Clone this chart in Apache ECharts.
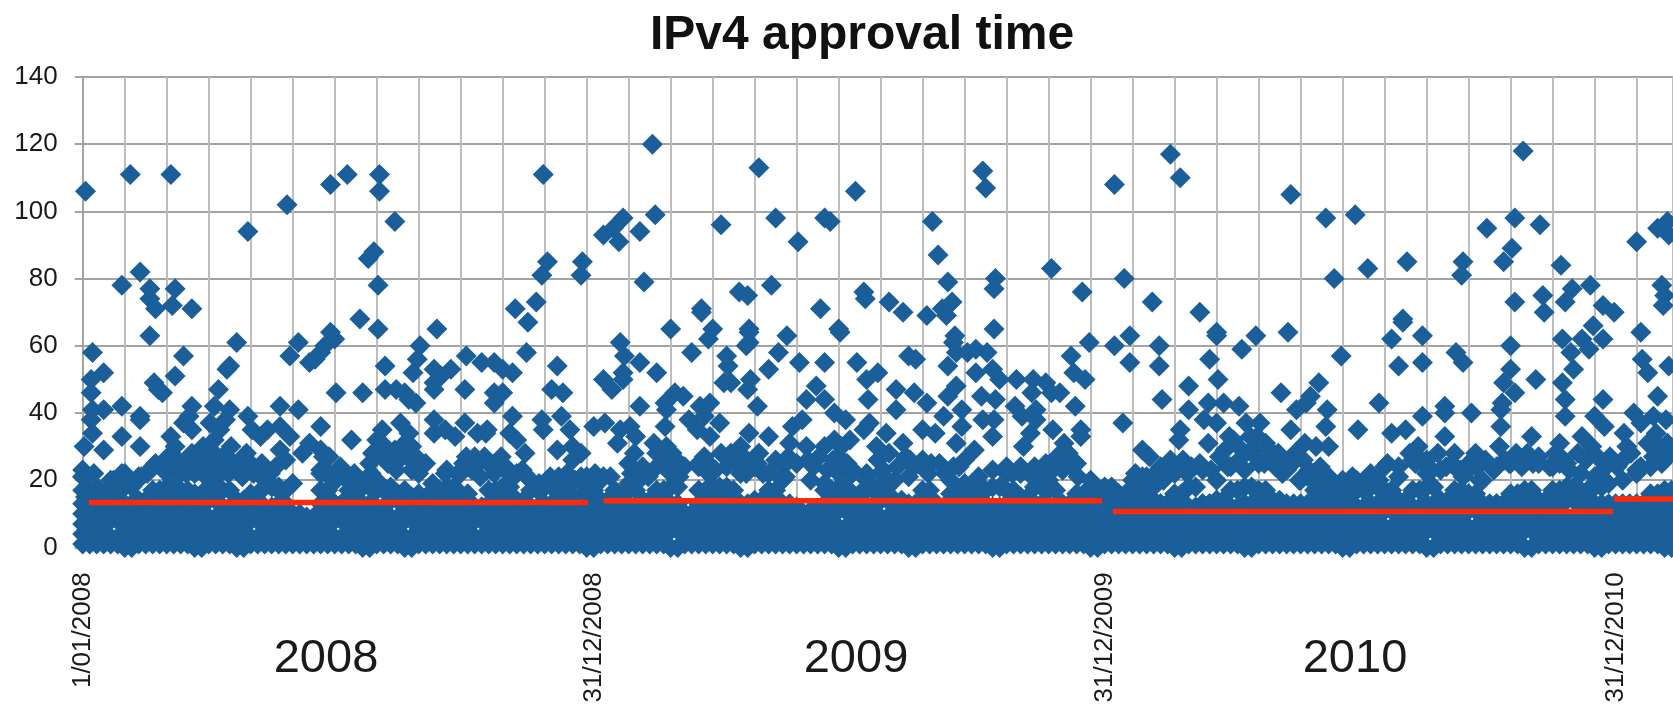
<!DOCTYPE html>
<html>
<head>
<meta charset="utf-8">
<title>IPv4 approval time</title>
<script src="https://cdn.jsdelivr.net/npm/echarts@6/dist/echarts.min.js"></script>
<style>
html, body { margin: 0; padding: 0; background: #fff; }
#chart { width: 1673px; height: 708px; }
</style>
</head>
<body>
<div id="chart"></div>
<script>
// x is days since 1/01/2008, y is approval time
const yearNames = ['2008', '2009', '2010'];
const dateLabelDays = [0, 365, 730, 1095];
const dateLabelTexts = ['1/01/2008', '31/12/2008', '31/12/2009', '31/12/2010'];

// yearly medians [start day, end day, value]
const medianSegments = [
    [4.4, 361, 13.4],
    [372, 728, 13.9],
    [736, 1093, 10.7],
    [1094, 1136, 14.4]
];

// individually readable points
const points2008 = [
    [2,106],[34,111],[63,111],[28,78],[41,82],[48,77],[48,74],[52,71],[66,77],[64,72],[78,71],[48,63],[72,57],[66,51],
    [7,58],[15,52],[6,50],[6,46],[51,49],[54,47],[57,46],[28,42],[7,41],[15,41],[6,38],[7,34],[41,39],[41,38],[28,33],
    [1,30],[15,29],[41,30],[0,23],[8,22],[0,21],[2,15],[118,94],[146,102],[177,108],[189,111],[212,111],[212,106],
    [223,97],[208,88],[204,86],[211,78],[198,68],[211,65],[110,61],[105,54],[103,53],[97,47],[154,61],[148,57],[162,55],
    [170,58],[166,56],[177,64],[180,62],[173,60],[181,46],[200,46],[216,54],[216,47],[224,47],[230,46],[233,44],[238,43],
    [241,60],[239,56],[236,52],[253,65],[251,53],[263,53],[256,51],[251,49],[251,47],[274,57],[273,47],[285,55],[294,55],
    [300,53],[307,52],[294,46],[300,46],[294,43],[309,71],[318,67],[317,58],[324,73],[328,81],[332,85],[329,111],[357,85],
    [356,81],[339,54],[335,47],[343,46],[342,39],[328,38],[329,35],[348,35],[339,29],[350,30],[350,26],[356,28],[307,39],
    [78,42],[72,37],[78,35],[76,39],[94,42],[105,41],[102,38],[91,37],[98,35],[118,39],[121,35],[127,33],[132,35],[141,36],
    [148,33],[141,42],[154,41],[141,29],[145,26],[157,28],[162,31],[170,36],[170,29],[176,27],[192,32],[227,37],[214,35],
    [210,32],[233,34],[235,30],[223,29],[207,28],[205,25],[224,23],[235,23],[245,25],[238,27],[251,38],[251,34],[259,35],
    [266,33],[273,37],[282,34],[289,35],[288,34],[305,34],[310,32],[316,28],[299,27],[287,27],[280,27],[272,25],[294,22],
    [28,22],[23,19],[42,21],[52,25],[63,33],[66,30],[61,27],[64,24],[78,28],[86,30],[94,28],[89,24],[106,30],[117,28],
    [112,24],[127,22],[132,20],[94,32],[173,23],[181,20],[189,20],[209,20],[259,22],[305,22],[340,21],[356,21],[326,19],
    [22,20],[30,19],[34,20],[46,22],[56,24],[60,22],[68,26],[70,22],[74,22],[76,26],[80,24],[84,27],[88,21],[90,28],[96,25],
    [98,22],[100,27],[104,22],[108,25],[114,21],[120,25],[122,22],[128,25],[134,22],[138,24],[170,23],[172,27],[176,21],
    [184,24],[188,22],[194,22],[206,22],[212,28],[216,30],[218,25],[226,26],[230,31],[232,27],[240,22],[268,22],[274,27],
    [278,23],[284,21],[290,25],[296,25],[302,24],[308,21],[314,23],[320,20],[334,21],[346,22],[352,20],[360,21]
];
const points2009 = [
    [407,120],[372,93],[379,95],[386,98],[383,91],[398,94],[409,99],[401,79],[483,113],[495,98],[456,96],[511,91],[530,98],
    [534,97],[552,106],[607,97],[611,87],[643,112],[645,107],[618,79],[652,80],[651,77],[692,83],[714,76],[442,71],[442,70],
    [469,76],[475,75],[492,78],[558,76],[559,74],[527,71],[576,73],[586,70],[603,69],[614,71],[621,73],[617,69],[420,65],
    [450,65],[476,65],[447,62],[476,61],[474,60],[476,64],[503,63],[540,65],[541,64],[651,65],[623,63],[622,61],[624,58],
    [632,58],[638,59],[646,58],[384,61],[387,57],[398,55],[386,52],[410,52],[372,50],[386,50],[378,47],[435,58],[460,57],
    [461,54],[458,49],[463,49],[477,50],[475,47],[497,58],[490,53],[512,55],[530,55],[553,55],[568,52],[560,50],[561,44],
    [590,57],[595,56],[618,54],[638,52],[650,53],[655,50],[667,50],[679,50],[688,49],[706,57],[708,52],[716,50],[698,46],
    [692,46],[709,42],[719,61],[398,42],[423,46],[429,45],[416,43],[448,43],[441,42],[482,42],[524,48],[517,44],[530,44],
    [537,40],[545,38],[581,47],[594,46],[603,43],[581,41],[624,48],[618,45],[642,45],[652,44],[666,42],[671,39],[678,46],
    [681,41],[681,38],[628,41],[615,39],[643,38],[651,38],[628,36],[609,34],[600,35],[693,35],[713,35],[713,33],[650,33],
    [637,29],[624,31],[677,34],[672,30],[701,31],[699,27],[365,36],[373,37],[384,35],[391,36],[395,33],[382,31],[408,31],
    [417,30],[421,28],[417,41],[416,36],[433,38],[439,35],[448,33],[455,37],[444,39],[476,34],[490,33],[470,30],[483,28],
    [463,28],[507,36],[514,38],[505,31],[517,30],[530,30],[537,32],[548,32],[562,37],[558,35],[574,34],[567,30],[586,31],
    [540,27],[372,21],[366,22],[377,21],[392,22],[429,24],[447,25],[447,22],[474,22],[495,26],[502,21],[560,22],[606,25],
    [591,26],[622,24],[638,20],[660,22],[680,24],[693,23],[706,24],[711,21],
    [390,25],[394,28],[400,24],[404,21],[410,28],[414,25],[420,22],[424,26],[426,21],[440,24],[444,27],[452,23],[456,28],
    [460,24],[466,26],[472,27],[478,24],[482,25],[486,22],[500,24],[504,27],[510,25],[518,26],[522,24],[526,27],[532,23],
    [536,26],[542,30],[546,25],[550,22],[568,26],[572,23],[576,28],[582,24],[588,27],[594,24],[600,26],[604,22],[612,25],
    [616,22],[626,24],[630,26],[664,22],[670,24],[676,22],[684,21],[688,25],[696,27],[700,23],[704,28]
];
const points2010 = [
    [737,108],[777,117],[784,110],[863,105],[888,98],[909,99],[1029,118],[1003,95],[1023,98],[1041,96],[1021,89],[1015,85],
    [744,80],[764,73],[798,70],[894,80],[918,83],[946,85],[986,85],[985,81],[1056,84],[1023,73],[1043,75],[1044,70],
    [1059,73],[1064,77],[1077,78],[1086,72],[1094,70],[748,63],[737,60],[769,60],[748,55],[769,54],[810,64],[810,63],[838,63],
    [828,59],[805,56],[861,64],[899,57],[943,68],[943,67],[935,62],[957,63],[940,54],[957,55],[981,58],[986,55],[1020,60],
    [1020,53],[1057,62],[1071,62],[1079,66],[1086,62],[1063,58],[1076,59],[1065,53],[790,48],[811,50],[771,44],[743,37],
    [790,41],[804,43],[815,43],[826,42],[856,46],[883,49],[877,45],[874,43],[867,41],[889,41],[926,43],[973,42],[973,40],
    [957,39],[992,40],[1015,49],[1023,46],[1038,50],[1057,49],[1059,44],[1014,43],[1013,41],[1059,39],[1086,44],[1080,39],
    [888,36],[863,35],[911,35],[935,34],[945,35],[973,33],[1013,36],[1035,33],[1071,33],[1087,36],[1055,31],[810,37],[801,38],
    [784,35],[783,32],[804,31],[819,33],[831,37],[841,37],[839,33],[845,31],[835,29],[757,29],[762,27],[890,30],[873,31],
    [866,28],[854,28],[881,30],[954,30],[980,28],[995,28],[1012,30],[1032,28],[1078,30],[1091,27],[777,26],[757,21],[789,22],
    [826,26],[818,24],[852,24],[869,20],[881,20],[907,21],[932,25],[956,26],[964,23],[986,21],[998,20],[1019,25],[1055,25],
    [732,16],[753,18],[857,22],
    [752,22],[758,19],[766,22],[772,20],[780,23],[786,26],[792,24],[798,25],[806,23],[812,27],[816,29],[822,32],[828,29],
    [834,33],[838,27],[844,25],[848,29],[850,25],[856,26],[860,23],[864,25],[872,26],[876,23],[884,24],[900,20],[914,19],
    [920,21],[926,20],[940,21],[948,28],[952,25],[960,26],[968,28],[974,24],[978,25],[984,23],[990,25],[996,24],[1002,26],
    [1008,23],[1016,26],[1024,28],[1028,24],[1036,25],[1040,27],[1048,24],[1052,28],[1058,26],[1062,23],[1068,28],[1074,26],
    [1082,27],[1086,23]
];
const points2011 = [
    [1110,91],[1125,95],[1132,97],[1133,93],[1128,78],[1130,75],[1129,72],[1113,64],[1114,56],[1133,54],[1118,52],[1125,45],
    [1108,40],[1122,39],[1131,38],[1101,34],[1113,37],[1113,24],[1134,28],[1103,30],[1126,30],
    [1096,24],[1100,26],[1106,28],[1110,23],[1118,31],[1122,27],[1128,25],[1132,31],[1124,34]
];

// the packed mass near the axis, read in 10 day steps
const rowDaysA = [
    0,10,20,30,40,50,60,70,80,90,100,110,120,130,140,150,160,170,180,190,200,210,220,230,240,250,260,270,280,290,
    300,310,320,330,340,350,360,370,380,390,400,410,420,430,440,450,460,470,480,490,500,510,520,530,540,550,560,570,580,590,
    600,610,620,630,640,650,660,670,680,690,700,710,720,730,740,750,760,770,780,790,800,810,820,830,840,850,860,870,880,890,
    900,910,920,930,940,950,960,970,980,990,1000,1010,1020,1030,1040,1050,1060,1070,1080,1090,1100,1110,1120,1130
];
const rowDaysB = [
    5,15,25,35,45,55,65,75,85,95,105,115,125,135,145,155,165,175,185,195,205,215,225,235,245,255,265,275,285,295,
    305,315,325,335,345,355,365,375,385,395,405,415,425,435,445,455,465,475,485,495,505,515,525,535,545,555,565,575,585,595,
    605,615,625,635,645,655,665,675,685,695,705,715,725,735,745,755,765,775,785,795,805,815,825,835,845,855,865,875,885,895,
    905,915,925,935,945,955,965,975,985,995,1005,1015,1025,1035,1045,1055,1065,1075,1085,1095,1105,1115,1125,1135
];
const rowBottom = [
    1,1,1,0,1,1,1,1,0,1,1,0,1,1,1,1,1,1,1,1,0,1,1,0,1,1,1,1,1,1,
    1,1,1,1,1,1,0,1,1,1,1,1,0,1,1,1,1,0,1,1,1,1,1,1,0,1,1,1,1,0,
    1,1,1,1,1,0,1,1,1,1,1,1,0,1,1,1,1,1,0,1,1,1,1,0,1,1,1,1,1,1,
    0,1,1,1,1,1,0,1,1,1,1,1,1,0,1,1,1,1,0,1,1,1,1,0
];
const rowLow = [
    4,4,3,4,5,4,4,3,4,4,5,4,3,4,4,5,4,4,3,4,4,5,4,3,4,4,4,5,3,4,
    4,4,5,4,3,4,4,5,4,4,3,4,5,4,4,4,3,4,4,5,4,4,4,3,4,4,5,4,4,3,
    4,5,4,4,3,4,4,5,4,4,4,3,4,5,4,4,3,4,4,5,4,3,4,4,4,5,4,4,3,4,
    4,5,4,4,3,4,5,4,4,4,3,4,4,5,4,3,4,4,4,5,4,4,3,4
];
const rowMid = [
    7,7,8,7,6,7,8,7,7,6,7,7,8,7,7,6,7,7,8,7,6,7,7,8,7,7,6,7,8,7,
    7,6,7,8,7,7,7,6,7,8,7,7,6,7,7,8,7,6,7,7,7,8,7,7,6,7,8,7,7,7,
    6,7,7,8,7,7,6,7,7,8,7,6,7,7,8,7,7,6,7,8,7,7,7,6,7,8,7,7,7,6,
    7,8,7,6,7,7,8,7,7,6,7,7,8,7,7,6,7,8,7,7,6,7,7,8
];
const rowUpper = [
    10,11,10,10,9,10,11,10,10,9,10,11,10,10,10,10,8,10,10,11,10,10,9,10,11,10,10,9,10,10,
    11,10,10,9,10,11,10,10,10,9,10,11,10,9,10,10,11,10,9,10,10,9,8,10,11,10,10,9,10,11,
    10,9,10,11,10,10,9,10,10,11,9,10,10,9,10,10,11,10,9,10,10,11,9,10,10,10,9,10,11,10,
    10,9,10,11,10,10,9,10,10,11,10,9,10,10,11,10,9,10,10,10,9,10,11,10
];
const rowTop = [
    13,13,14,13,12,13,14,13,13,14,12,13,14,12,13,9,9,13,13,14,13,12,14,13,12,13,14,13,12,13,
    14,13,12,13,14,13,13,13,14,12,13,14,13,10,13,14,13,12,14,13,13,10,10,13,14,13,12,14,13,12,
    13,10,13,14,13,12,13,14,13,12,13,13,14,12,13,13,14,13,13,12,13,14,12,13,14,13,13,12,13,14,
    13,12,13,14,13,12,13,14,13,12,13,13,14,13,12,13,14,13,13,12,13,12,13,14
];
const rowCrest = [
    17,15,17,18,14,17,18,17,16,18,17,14,16,18,17,9,9,17,13,17,18,17,16,15,14,17,18,16,12,17,
    18,14,17,18,17,15,17,14,15,17,14,17,18,10,17,18,17,13,13,17,12,10,11,17,18,16,17,18,14,13,
    17,12,16,18,17,18,17,15,18,17,12,16,17,18,16,17,18,13,16,18,13,14,17,18,17,14,12,13,17,18,
    15,17,18,17,14,17,18,13,17,16,12,13,16,17,14,17,18,17,18,13,12,13,16,17
];
const rowPeak = [
    21,18,20,22,21,24,25,23,22,26,24,25,24,20,18,19,6,22,21,20,19,20,18,17,16,19,23,22,24,25,
    24,22,20,18,19,20,18,20,17,19,21,24,25,24,25,23,18,22,24,22,20,12,20,19,22,23,20,22,20,21,
    24,13,20,19,21,23,24,22,18,20,23,25,20,17,15,20,21,24,22,24,23,20,24,23,25,26,24,20,19,21,
    18,20,22,24,24,26,22,23,24,23,20,24,25,26,25,24,25,22,21,19,20,22,24,26
];

const rowsOnA = [rowBottom, rowLow, rowMid, rowUpper, rowTop, rowCrest, rowPeak];
const rowsOnB = [rowBottom, rowLow, rowMid, rowUpper, rowTop, rowCrest];

const pointData = [].concat(points2008, points2009, points2010, points2011);
rowsOnA.forEach(row => row.forEach((v, i) => pointData.push([rowDaysA[i], v])));
rowsOnB.forEach(row => row.forEach((v, i) => pointData.push([rowDaysB[i], v])));

const font = '"Liberation Sans", Arial, sans-serif';
const chart = echarts.init(document.getElementById('chart'), null, { renderer: 'canvas' });

const medianSeries = medianSegments.map(s => ({
    type: 'line',
    data: [[s[0], s[2]], [s[1], s[2]]],
    symbol: 'none',
    silent: true,
    clip: false,
    z: 5,
    lineStyle: { color: '#ff2a0a', width: 5.5, cap: 'butt' }
}));

chart.setOption({
    animation: false,
    title: {
        text: 'IPv4 approval time',
        left: 857,
        top: 7,
        textAlign: 'center',
        textStyle: { fontFamily: font, fontSize: 48, fontWeight: 'bold', color: '#111' }
    },
    grid: { left: 82.7, right: 0, top: 77, bottom: 160.6 },
    xAxis: {
        type: 'value',
        min: 0,
        max: 1136,
        interval: 30,
        axisLabel: { show: false },
        axisTick: { show: false },
        axisLine: { lineStyle: { color: '#a3a3a3', width: 2 } },
        splitLine: { show: true, lineStyle: { color: '#bdbdbd', width: 2 } }
    },
    yAxis: {
        type: 'value',
        min: 0,
        max: 140,
        interval: 20,
        axisLine: { show: true, lineStyle: { color: '#a3a3a3', width: 2 } },
        axisTick: { show: true, length: 8, lineStyle: { color: '#a3a3a3', width: 2 } },
        axisLabel: { margin: 25, padding: [3, 0, 0, 0], fontFamily: font, fontSize: 26, color: '#1a1a1a' },
        splitLine: { show: true, lineStyle: { color: '#a3a3a3', width: 2 } }
    },
    graphic: yearNames.map((name, i) => ({
        type: 'text',
        x: [326, 856, 1355][i],
        y: 659,
        style: { text: name, fontFamily: font, fontSize: 47, fill: '#1a1a1a', textAlign: 'center', textVerticalAlign: 'middle' }
    })),
    series: [
        {
            type: 'scatter',
            data: pointData,
            symbol: 'diamond',
            symbolSize: 21,
            clip: false,
            large: false,
            silent: true,
            z: 3,
            itemStyle: { color: '#1a5f99', opacity: 1 }
        },
        {
            type: 'scatter',
            data: dateLabelDays.map((d, i) => ({ value: [d, 0], name: dateLabelTexts[i] })),
            symbolSize: 0,
            clip: false,
            silent: true,
            z: 4,
            itemStyle: { opacity: 1 },
            label: {
                show: true,
                formatter: '{b}',
                position: 'bottom',
                distance: 25,
                rotate: 90,
                align: 'right',
                verticalAlign: 'middle',
                fontFamily: font,
                fontSize: 26,
                color: '#1a1a1a'
            }
        }
    ].concat(medianSeries)
});

window.addEventListener('resize', () => chart.resize());
</script>
</body>
</html>
